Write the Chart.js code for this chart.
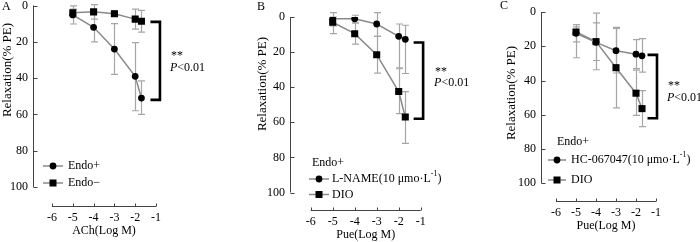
<!DOCTYPE html>
<html><head><meta charset="utf-8">
<script src="https://cdn.jsdelivr.net/npm/chart.js@4.4.1/dist/chart.umd.min.js"></script>
<style>
html,body{margin:0;padding:0;background:#fff;width:700px;height:242px;overflow:hidden;}
canvas{position:absolute;top:0;}
</style></head><body>
<canvas id="cA" width="235" height="242" style="left:0px"></canvas>
<canvas id="cB" width="245" height="242" style="left:235px"></canvas>
<canvas id="cC" width="235" height="242" style="left:465px"></canvas>
<script>
// ---------- DATA ----------
const xTickValues = [-6, -5, -4, -3, -2, -1];
const yTickValues = [0, 20, 40, 60, 80, 100];
const concLog = [-5, -4, -3, -2, -1.7];

// Panel A (ACh)
const aEndoPlus      = [5.2, 12, 24, 39, 51];
const aEndoPlusErrLo = [5, 8, 14, 18.5, 9.5];
const aEndoPlusErrHi = [5, 8, 14, 19, 9];
const aEndoMinus      = [4, 3.5, 4.5, 7.5, 8.7];
const aEndoMinusErrLo = [2, 4, 1.5, 5.5, 6];
const aEndoMinusErrHi = [2, 4, 1.5, 5.5, 6];

// Panel B (Pue, L-NAME)
const bLname      = [1, 1, 4, 11, 12.7];
const bLnameErrLo = [3.5, 2, 6.5, 7, 8];
const bLnameErrHi = [4, 2, 7, 18, 19.5];
const bDio      = [3, 9.5, 21.5, 42.5, 57];
const bDioErrLo = [3, 6, 10.5, 13, 14.5];
const bDioErrHi = [6.5, 6, 10.5, 12.5, 15];

// Panel C (Pue, HC-067047)
const cHc      = [12.4, 17.7, 22.6, 24.6, 25.6];
const cHcErrLo = [5, 17, 13, 8.5, 10];
const cHcErrHi = [5, 16, 13, 8.5, 9.5];
const cDio      = [11.7, 17.3, 32.5, 47.4, 56.4];
const cDioErrLo = [3, 11, 23.5, 13.5, 10.5];
const cDioErrHi = [15, 11, 23.5, 13, 10.5];

// significance brackets [from, to] in y-values
const aBracket = [9, 52];
const bBracket = [14.5, 58];
const cBracket = [25, 62];

// ---------- STYLE ----------
const FONT = "'Liberation Serif', 'Times New Roman', serif";
const LINE_COLOR = '#8a8a8a';
const ERR_COLOR = '#a6a6a6';
const AXIS_COLOR = '#444';

function pts(ys) { return concLog.map((x, i) => ({x: x, y: ys[i]})); }

function ds(label, ys, lo, hi, style) {
  return {
    label: label, data: pts(ys), errLo: lo, errHi: hi,
    borderColor: LINE_COLOR, borderWidth: 1.5,
    pointStyle: style, pointRadius: style === 'rect' ? 5 : 3.4,
    pointBackgroundColor: '#000', pointBorderColor: '#000', pointBorderWidth: 0,
    tension: 0, fill: false
  };
}

function drawRich(ctx, parts, x, y) {
  let cx = x;
  for (const p of parts) {
    if (typeof p === 'string') {
      ctx.font = '12px ' + FONT; ctx.fillText(p, cx, y); cx += ctx.measureText(p).width;
    } else if (p.sup) {
      ctx.font = '8px ' + FONT; ctx.fillText(p.sup, cx, y - 5); cx += ctx.measureText(p.sup).width;
    } else if (p.it) {
      ctx.font = 'italic 12px ' + FONT; ctx.fillText(p.it, cx, y); cx += ctx.measureText(p.it).width;
    }
  }
}

const decor = {
  id: 'decor',
  beforeDatasetsDraw(chart) {
    const ctx = chart.ctx, xs = chart.scales.x, ys = chart.scales.y;
    ctx.save();
    ctx.strokeStyle = ERR_COLOR; ctx.lineWidth = 1.2;
    chart.data.datasets.forEach(d => {
      d.data.forEach((p, i) => {
        const px = Math.round(xs.getPixelForValue(p.x)) + 0.5;
        const y1 = ys.getPixelForValue(p.y - d.errLo[i]);
        const y2 = ys.getPixelForValue(p.y + d.errHi[i]);
        ctx.beginPath();
        ctx.moveTo(px, y1); ctx.lineTo(px, y2);
        ctx.moveTo(px - 3.5, y1); ctx.lineTo(px + 3.5, y1);
        ctx.moveTo(px - 3.5, y2); ctx.lineTo(px + 3.5, y2);
        ctx.stroke();
      });
    });
    ctx.restore();
  },
  afterDraw(chart, args, o) {
    const ctx = chart.ctx, xs = chart.scales.x, ys = chart.scales.y, ca = chart.chartArea;
    ctx.save();
    // y axis
    ctx.strokeStyle = AXIS_COLOR; ctx.lineWidth = 1;
    const ax = Math.round(ca.left) + 0.5;
    ctx.beginPath();
    ctx.moveTo(ax, ys.getPixelForValue(0)); ctx.lineTo(ax, ys.getPixelForValue(100));
    yTickValues.forEach(v => { const py = Math.round(ys.getPixelForValue(v)) + 0.5; ctx.moveTo(ax, py); ctx.lineTo(ax + 4, py); });
    ctx.stroke();
    // x axis (detached)
    const ay = Math.round(ca.bottom) + 0.5;
    const xl = xs.getPixelForValue(-6), xr = xs.getPixelForValue(-1);
    ctx.beginPath();
    ctx.moveTo(xl, ay); ctx.lineTo(xr, ay);
    xTickValues.forEach(v => { const px = Math.round(xs.getPixelForValue(v)) + 0.5; ctx.moveTo(px, ay); ctx.lineTo(px, ay - 3); });
    ctx.stroke();
    // x title centred on the detached axis
    ctx.fillStyle = '#000'; ctx.textBaseline = 'middle'; ctx.textAlign = 'center';
    ctx.font = '12px ' + FONT;
    ctx.fillText(o.xTitle, (xl + xr) / 2, ca.bottom + 25);
    // bracket
    const bx = xs.getPixelForValue(o.bracketX);
    const b1 = ys.getPixelForValue(o.bracket[0]), b2 = ys.getPixelForValue(o.bracket[1]);
    ctx.strokeStyle = '#000'; ctx.lineWidth = 2.6; ctx.lineJoin = 'miter';
    ctx.beginPath();
    ctx.moveTo(bx - 9.5, b1); ctx.lineTo(bx, b1); ctx.lineTo(bx, b2); ctx.lineTo(bx - 9.5, b2);
    ctx.stroke();
    // significance text
    ctx.textAlign = 'left';
    ctx.font = '12px ' + FONT;
    ctx.fillText('**', bx + o.textDx + 1, ys.getPixelForValue(o.starsY) + 3);
    drawRich(ctx, [{it: 'P'}, '<0.01'], bx + o.textDx, ys.getPixelForValue(o.pY));
    // legend
    const L = o.legend;
    ctx.font = '12px ' + FONT;
    if (L.header) ctx.fillText(L.header, L.headerX, L.headerY);
    L.items.forEach((it, i) => {
      const y = L.y + i * L.gap;
      ctx.strokeStyle = LINE_COLOR; ctx.lineWidth = 1.5;
      ctx.beginPath(); ctx.moveTo(L.x, y); ctx.lineTo(L.x + L.len, y); ctx.stroke();
      ctx.fillStyle = '#000';
      const mx = L.x + L.len / 2;
      if (it.style === 'rect') ctx.fillRect(mx - 3.5, y - 3.5, 7, 7);
      else { ctx.beginPath(); ctx.arc(mx, y, 3.4, 0, Math.PI * 2); ctx.fill(); }
      drawRich(ctx, it.parts, L.textX, y);
    });
    // panel letter
    ctx.font = '12px ' + FONT;
    ctx.fillText(o.letter, o.letterX, o.letterY);
    // y title
    ctx.save();
    ctx.translate(o.yTitleX, o.yTitleY); ctx.rotate(-Math.PI / 2);
    ctx.textAlign = 'center'; ctx.font = '13px ' + FONT;
    ctx.fillText('Relaxation(% PE)', 0, 0);
    ctx.restore();
    ctx.restore();
  }
};

function makeChart(id, g, datasets, deco) {
  const ppuX = (g.x1 - g.x6) / 5;
  const xmin = -6 - (g.x6 - g.axisX) / ppuX;
  const ppuY = (g.y100 - g.y0) / 100;
  const ymax = (g.axisY - g.y0) / ppuY;
  const tickFont = {family: FONT, size: 12};
  return new Chart(document.getElementById(id), {
    type: 'line',
    data: {datasets: datasets},
    plugins: [decor],
    options: {
      responsive: false, animation: false, devicePixelRatio: 1,
      layout: {padding: {top: g.y0, right: g.w - g.x1, left: 0, bottom: 0}},
      plugins: {legend: {display: false}, tooltip: {enabled: false}, decor: deco},
      scales: {
        x: {
          type: 'linear', position: 'bottom', min: xmin, max: -1,
          grid: {display: false, drawTicks: false}, border: {display: false},
          ticks: {stepSize: 1, padding: 5, color: '#000', font: tickFont, maxRotation: 0, autoSkip: false},
          afterBuildTicks: s => { s.ticks = xTickValues.map(v => ({value: v})); },
          afterFit: s => { s.height = 242 - g.axisY; s.paddingLeft = 0; s.paddingRight = 0; }
        },
        y: {
          type: 'linear', reverse: true, min: 0, max: ymax,
          grid: {display: false, drawTicks: false}, border: {display: false},
          ticks: {padding: 5, color: '#000', font: tickFont},
          afterBuildTicks: s => { s.ticks = yTickValues.map(v => ({value: v})); },
          afterFit: s => { s.width = g.axisX; s.paddingTop = 0; s.paddingBottom = 0; }
        }
      }
    }
  });
}

makeChart('cA', {w: 235, axisX: 33, x6: 52, x1: 156, y0: 5.5, y100: 187, axisY: 206},
  [ds('Endo+', aEndoPlus, aEndoPlusErrLo, aEndoPlusErrHi, 'circle'),
   ds('Endo−', aEndoMinus, aEndoMinusErrLo, aEndoMinusErrHi, 'rect')],
  {xTitle: 'ACh(Log M)', bracket: aBracket, bracketX: -0.81, textDx: 10, starsY: 26.2, pY: 34.4,
   legend: {x: 43, len: 20, textX: 68, y: 166, gap: 17,
     items: [{style: 'circle', parts: ['Endo+']}, {style: 'rect', parts: ['Endo−']}]},
   letter: 'A', letterX: 2, letterY: 7, yTitleX: 8, yTitleY: 70});

makeChart('cB', {w: 245, axisX: 55, x6: 75.7, x1: 185.7, y0: 17, y100: 192.5, axisY: 210},
  [ds('L-NAME(10 μmo·L-1)', bLname, bLnameErrLo, bLnameErrHi, 'circle'),
   ds('DIO', bDio, bDioErrLo, bDioErrHi, 'rect')],
  {xTitle: 'Pue(Log M)', bracket: bBracket, bracketX: -0.89, textDx: 11, starsY: 29.6, pY: 37.6,
   legend: {header: 'Endo+', headerX: 77, headerY: 163, x: 74, len: 20, textX: 97, y: 179, gap: 15.5,
     items: [{style: 'circle', parts: ['L-NAME(10 μmo·L', {sup: '-1'}, ')']}, {style: 'rect', parts: ['DIO']}]},
   letter: 'B', letterX: 22, letterY: 7, yTitleX: 28, yTitleY: 84});

makeChart('cC', {w: 235, axisX: 76, x6: 91, x1: 191, y0: 12, y100: 183.3, axisY: 201},
  [ds('HC-067047(10 μmo·L-1)', cHc, cHcErrLo, cHcErrHi, 'circle'),
   ds('DIO', cDio, cDioErrLo, cDioErrHi, 'rect')],
  {xTitle: 'Pue(Log M)', bracket: cBracket, bracketX: -0.95, textDx: 10, starsY: 41.4, pY: 50.2,
   legend: {header: 'Endo+', headerX: 92, headerY: 142, x: 83, len: 18, textX: 106, y: 160, gap: 20,
     items: [{style: 'circle', parts: ['HC-067047(10 μmo·L', {sup: '-1'}, ')']}, {style: 'rect', parts: ['DIO']}]},
   letter: 'C', letterX: 35, letterY: 6, yTitleX: 47, yTitleY: 93});
</script>
</body></html>
